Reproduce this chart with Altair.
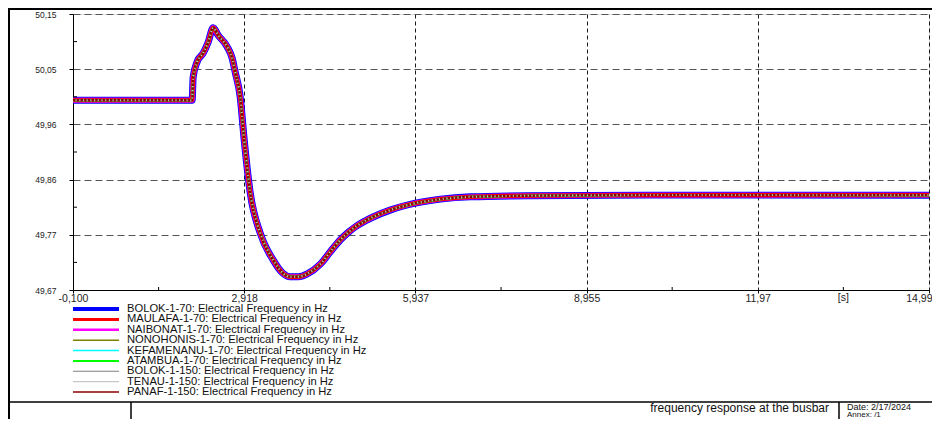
import altair as alt
import pandas as pd

# ---------------- data ----------------
time_s = [-0.100, 2.000, 2.018, 2.089, 2.195, 2.283, 2.371, 2.459, 2.618, 2.706,
          2.759, 2.847, 2.918, 3.024, 3.200, 3.430, 3.590, 3.730, 3.870, 4.030,
          4.260, 4.440, 4.610, 4.750, 4.880, 5.050, 5.190, 5.490, 5.937, 6.380,
          6.907, 7.970, 10.00, 14.99]
freq_hz = [50.000, 50.000, 50.040, 50.067, 50.082, 50.101, 50.126, 50.113, 50.093, 50.073,
           50.049, 50.006, 49.931, 49.839, 49.769, 49.722, 49.700, 49.693, 49.693, 49.698,
           49.715, 49.737, 49.757, 49.770, 49.780, 49.790, 49.797, 49.809, 49.821, 49.828,
           49.832, 49.834, 49.835, 49.835]

series_names = [
    "BOLOK-1-70: Electrical Frequency in Hz",
    "MAULAFA-1-70: Electrical Frequency in Hz",
    "NAIBONAT-1-70: Electrical Frequency in Hz",
    "NONOHONIS-1-70: Electrical Frequency in Hz",
    "KEFAMENANU-1-70: Electrical Frequency in Hz",
    "ATAMBUA-1-70: Electrical Frequency in Hz",
    "BOLOK-1-150: Electrical Frequency in Hz",
    "TENAU-1-150: Electrical Frequency in Hz",
    "PANAF-1-150: Electrical Frequency in Hz",
]
series_colors = ["#0000ff", "#ff0000", "#ff00ff", "#808000", "#00ffff",
                 "#00ff00", "#808080", "#c8c8c8", "#8b0000"]

x_ticks = [-0.100, 2.918, 5.937, 8.955, 11.97, 14.99]
x_tick_labels = ["-0,100", "2,918", "5,937", "8,955", "11,97", "14,99"]
y_ticks = [49.670, 49.766, 49.862, 49.958, 50.054, 50.150]
y_tick_labels = ["49,67", "49,77", "49,86", "49,96", "50,05", "50,15"]
x_unit = "[s]"
title_text = "frequency response at the busbar"
date_text = "Date: 2/17/2024"
annex_text = "Annex:   /1"

# ---------------- styles ----------------
FONT = "Liberation Sans"
plot_widths = [7, 4.2, 5.4, 2, 2, 2, 1.6, 1.2, 2.4]
plot_opac = [1, 1, 0.75, 1, 1, 1, 1, 1, 1]
plot_dash = [None, None, None, None, None, None, None, None, [2.5, 1.2]]
draw_order = [0, 2, 1, 3, 4, 5, 6, 7, 8]
legend_widths = [4, 3, 2.5, 1.5, 1.5, 2, 1.2, 1.2, 1.5]

W, H = 856, 276


def label_expr(vals, labels):
    expr = "''"
    for v, l in reversed(list(zip(vals, labels))):
        expr = f"abs(datum.value - ({v})) < 1e-6 ? '{l}' : {expr}"
    return expr


df = pd.DataFrame({"t": time_s, "f": freq_hz})

xscale = alt.Scale(domain=[x_ticks[0], x_ticks[-1]], nice=False, zero=False)
yscale = alt.Scale(domain=[y_ticks[0], y_ticks[-1]], nice=False, zero=False)

last_test = f"datum.value > {x_ticks[-1] - 1e-6}"
xaxis = alt.Axis(values=x_ticks, labelExpr=label_expr(x_ticks, x_tick_labels),
                 grid=True, gridDash=[4, 3], gridColor="#1a1a1a", gridWidth=1,
                 domainColor="#000", tickColor="#000", tickSize=3, labelPadding=0,
                 labelFont=FONT, labelFontSize=10.5, labelColor="#222", title=None,
                 labelFlush=False, labelOverlap=False,
                 labelAlign={"condition": {"test": last_test, "value": "right"},
                             "value": "center"},
                 labelOffset={"condition": {"test": last_test, "value": 3},
                              "value": 0})
yaxis = alt.Axis(values=y_ticks, labelExpr=label_expr(y_ticks, y_tick_labels),
                 grid=True, gridDash=[7, 4], gridColor="#555", gridWidth=1,
                 domainColor="#000", tickColor="#000", tickSize=4, labelPadding=13,
                 labelFont=FONT, labelFontSize=8.5, labelColor="#222", title=None,
                 labelFlush=False, labelOverlap=False)

X = lambda f: alt.X(f, scale=xscale, axis=xaxis)
Y = lambda f: alt.Y(f, scale=yscale, axis=yaxis)

main_layers = []
for i in draw_order:
    kw = dict(stroke=series_colors[i], strokeWidth=plot_widths[i],
              strokeOpacity=plot_opac[i], clip=True, interpolate="monotone")
    if plot_dash[i] is not None:
        kw["strokeDash"] = plot_dash[i]
    main_layers.append(alt.Chart(df).mark_line(**kw).encode(x=X("t:Q"), y=Y("f:Q")))

# minor ticks (midpoints of the major ticks), pointing inward
x_minor = pd.DataFrame({"t": [(a + b) / 2 for a, b in zip(x_ticks[:-1], x_ticks[1:])]})
y_minor = pd.DataFrame({"f": [(a + b) / 2 for a, b in zip(y_ticks[:-1], y_ticks[1:])]})
main_layers.append(alt.Chart(x_minor).mark_rule(color="#000").encode(
    x=X("t:Q"), y=alt.value(H - 3), y2=alt.value(H)))
main_layers.append(alt.Chart(y_minor).mark_rule(color="#000").encode(
    y=Y("f:Q"), x=alt.value(0), x2=alt.value(4)))
# unit label on the time axis
unit_df = pd.DataFrame({"t": [(x_ticks[-2] + x_ticks[-1]) / 2], "txt": [x_unit]})
main_layers.append(alt.Chart(unit_df).mark_text(
    font=FONT, fontSize=10.5, color="#222", baseline="top", dy=3).encode(
    x=X("t:Q"), y=alt.value(H), text="txt:N"))

main = alt.layer(*main_layers)

# ---------------- legend ----------------
rowscale = alt.Scale(domain=[0, len(series_names) - 1], range=[295, 378])
leg_layers = []
for i, name in enumerate(series_names):
    d = pd.DataFrame({"row": [i], "name": [name]})
    leg_layers.append(alt.Chart(d).mark_rule(
        color=series_colors[i], strokeWidth=legend_widths[i]).encode(
        y=alt.Y("row:Q", scale=rowscale, axis=None),
        x=alt.value(0), x2=alt.value(46)))
    leg_layers.append(alt.Chart(d).mark_text(
        font=FONT, fontSize=11.2, color="#111", align="left", baseline="middle").encode(
        y=alt.Y("row:Q", scale=rowscale, axis=None),
        x=alt.value(54), text="name:N"))
legend = alt.layer(*leg_layers)

# ---------------- frame / title block ----------------
frame_df = pd.DataFrame({"a": [0]})
frame = alt.layer(
    alt.Chart(frame_df).mark_rule(color="#000", strokeWidth=2).encode(
        x=alt.value(-64), y=alt.value(-6), y2=alt.value(420)),
    alt.Chart(frame_df).mark_rule(color="#000", strokeWidth=2).encode(
        x=alt.value(-65), x2=alt.value(880), y=alt.value(-5)),
    alt.Chart(frame_df).mark_rule(color="#000", strokeWidth=1.5).encode(
        x=alt.value(-65), x2=alt.value(880), y=alt.value(388)),
    alt.Chart(frame_df).mark_rule(color="#000", strokeWidth=1.5).encode(
        x=alt.value(58), y=alt.value(388), y2=alt.value(420)),
    alt.Chart(frame_df).mark_rule(color="#000", strokeWidth=1.5).encode(
        x=alt.value(766), y=alt.value(388), y2=alt.value(420)),
    alt.Chart(pd.DataFrame({"txt": [title_text]})).mark_text(
        font=FONT, fontSize=12, color="#111", align="right", baseline="middle").encode(
        x=alt.value(756), y=alt.value(394), text="txt:N"),
    alt.Chart(pd.DataFrame({"txt": [date_text]})).mark_text(
        font=FONT, fontSize=9, color="#111", align="left", baseline="middle").encode(
        x=alt.value(774), y=alt.value(392.5), text="txt:N"),
    alt.Chart(pd.DataFrame({"txt": [annex_text]})).mark_text(
        font=FONT, fontSize=8, color="#111", align="left", baseline="bottom").encode(
        x=alt.value(774), y=alt.value(405), text="txt:N"),
)

chart = alt.layer(main, legend, frame).resolve_scale(y="independent").properties(
    width=W, height=H,
    autosize=alt.AutoSizeParams(type="none"),
    padding={"left": 65, "top": 6, "right": 3, "bottom": 129},
).configure_view(stroke=None).configure(background="white")

chart.save("out.html", embed_options={"renderer": "svg", "actions": False})
